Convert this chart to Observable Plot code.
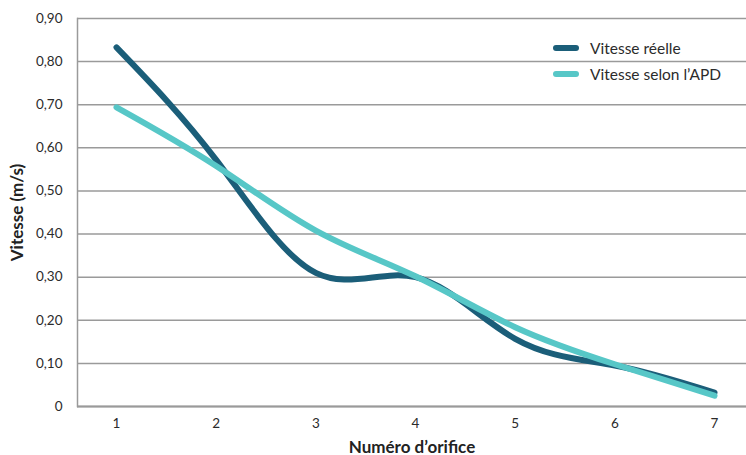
<!DOCTYPE html>
<html>
<head>
<meta charset="utf-8">
<script src="https://cdn.jsdelivr.net/npm/d3@7"></script>
<script src="https://cdn.jsdelivr.net/npm/@observablehq/plot@0.6"></script>
<style>
  html, body { margin: 0; padding: 0; background: #fff; }
  #wrap { position: relative; width: 746px; height: 455px; font-family: Lato, "Open Sans", sans-serif; }
  #wrap svg text { fill: #2b2b2b; }
  #wrap svg [aria-label="x-axis label"] text,
  #wrap svg [aria-label="y-axis label"] text { font-weight: bold; font-size: 17px; fill: #222; }
  #legend { position: absolute; left: 553px; top: 35px; font-size: 15.5px; color: #2b2b2b; line-height: 26px; }
  #legend .row { display: flex; align-items: center; }
  #legend .sw { width: 26px; height: 6px; border-radius: 3px; margin-right: 11px; }
</style>
</head>
<body>
<div id="wrap"></div>
<script>
const orifices = [1, 2, 3, 4, 5, 6, 7];
const vitesseReelle = [0.833, 0.572, 0.31, 0.30, 0.157, 0.095, 0.032];
const vitesseAPD = [0.694, 0.558, 0.408, 0.302, 0.184, 0.098, 0.025];
const seriesNames = ["Vitesse réelle", "Vitesse selon l’APD"];
const seriesColors = ["#1b5e79", "#57c7c7"];
const yTicks = [0, 0.1, 0.2, 0.3, 0.4, 0.5, 0.6, 0.7, 0.8, 0.9];

const data = [];
orifices.forEach((o, i) => {
  data.push({orifice: o, vitesse: vitesseReelle[i], serie: seriesNames[0]});
  data.push({orifice: o, vitesse: vitesseAPD[i], serie: seriesNames[1]});
});

const fmt = d => d === 0 ? "0" : d.toFixed(2).replace(".", ",");

const chart = Plot.plot({
  width: 746,
  height: 455,
  marginLeft: 77,
  marginRight: 0,
  marginTop: 18,
  marginBottom: 49,
  style: {fontFamily: "Lato, 'Open Sans', sans-serif", fontSize: "13.5px", background: "#fff"},
  x: {domain: [1, 7], range: [116, 714]},
  y: {domain: [0, 0.9]},
  color: {domain: seriesNames, range: seriesColors},
  marks: [
    Plot.gridY(yTicks, {stroke: "#9a9a9a", strokeOpacity: 1, strokeWidth: 1.5}),
    Plot.frame({anchor: "left", stroke: "#9a9a9a", strokeWidth: 1.5}),
    Plot.ruleY([0], {stroke: "#9a9a9a", strokeWidth: 2}),
    Plot.axisY(yTicks, {tickSize: 0, tickPadding: 15, tickFormat: fmt, label: "Vitesse (m/s)", labelAnchor: "center", labelOffset: 67, labelArrow: "none"}),
    Plot.axisX(orifices, {tickSize: 0, tickPadding: 12, tickFormat: d => String(d), label: "Numéro d’orifice", labelAnchor: "center", labelOffset: 46, labelArrow: "none"}),
    Plot.line(data, {x: "orifice", y: "vitesse", z: "serie", stroke: "serie", strokeWidth: 6, curve: "natural", strokeLinecap: "round", strokeLinejoin: "round"})
  ]
});

const wrap = document.getElementById("wrap");
wrap.appendChild(chart);

const legend = document.createElement("div");
legend.id = "legend";
seriesNames.forEach((n, i) => {
  const row = document.createElement("div");
  row.className = "row";
  const sw = document.createElement("span");
  sw.className = "sw";
  sw.style.background = seriesColors[i];
  const t = document.createElement("span");
  t.textContent = n;
  row.appendChild(sw);
  row.appendChild(t);
  legend.appendChild(row);
});
wrap.appendChild(legend);
</script>
</body>
</html>
